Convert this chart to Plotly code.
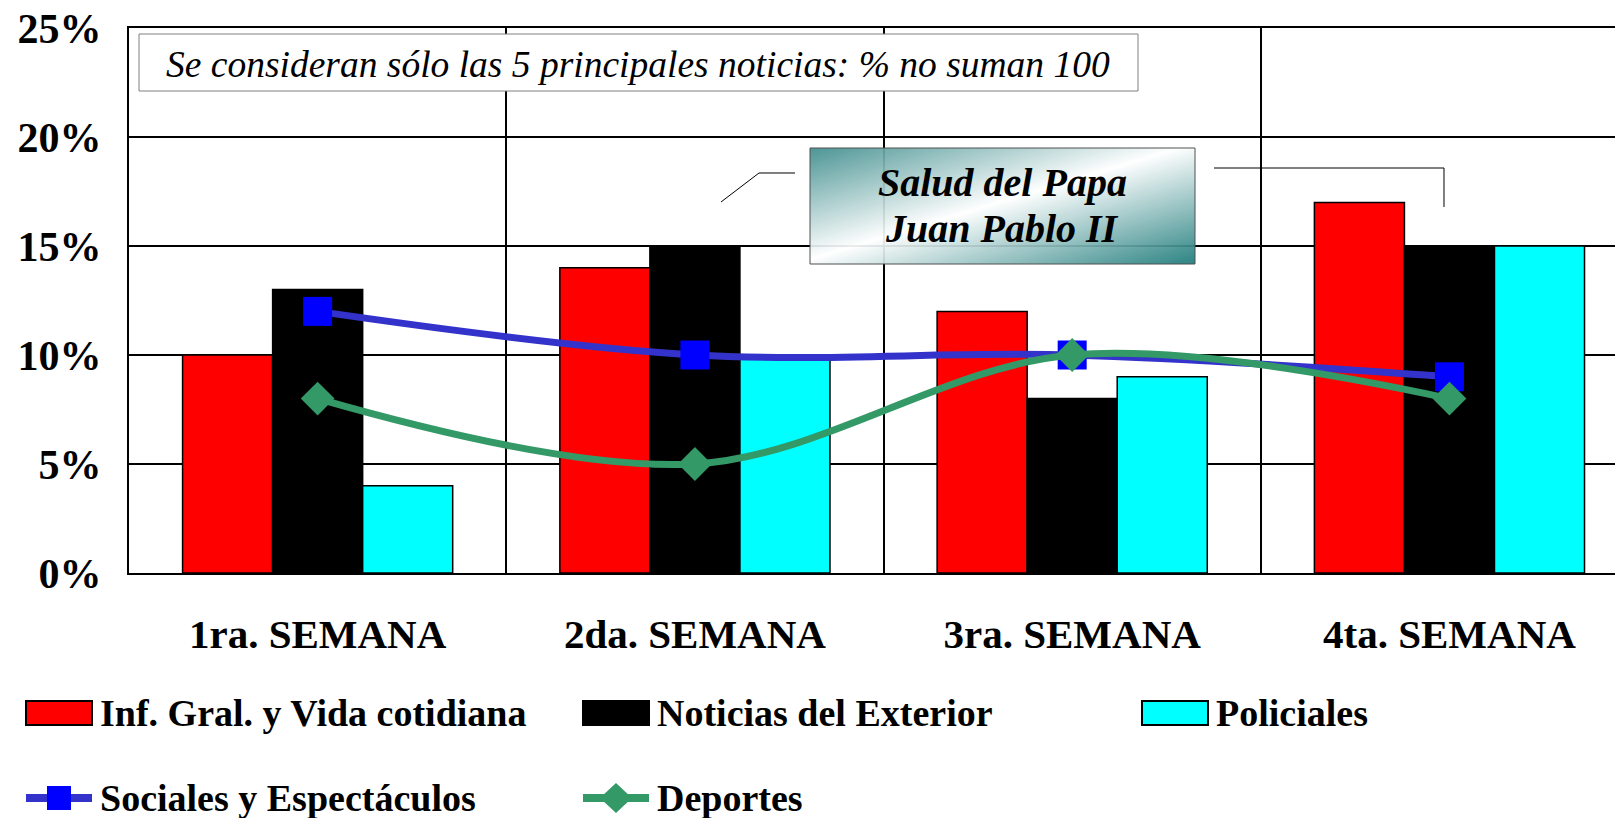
import base64
import plotly.graph_objects as go

# data
weeks = ["1ra. SEMANA", "2da. SEMANA", "3ra. SEMANA", "4ta. SEMANA"]
inf_gral = [10, 14, 12, 17]
exterior = [13, 15, 8, 15]
policiales = [4, 10, 9, 15]
sociales = [12, 10, 10, 9]
deportes = [8, 5, 10, 8]
y_ticks = [0, 5, 10, 15, 20, 25]
y_labels = ["0%", "5%", "10%", "15%", "20%", "25%"]

bar_names = ["Inf. Gral. y Vida cotidiana", "Noticias del Exterior", "Policiales"]
bar_colors = ["#FF0000", "#000000", "#00FFFF"]
line_names = ["Sociales y Espectáculos", "Deportes"]

note = "Se consideran sólo las 5 principales noticias: % no suman 100"
callout = ["Salud del Papa", "Juan Pablo II"]

FONT = '"Liberation Serif", "Times New Roman", Tinos, serif'

# page body has an 8px margin, so figure pixels = screen pixels - 8
OFF = 8
L, T, W, H = 129 - OFF, 28 - OFF, 1494, 545


def px(x):
    # screen pixel -> paper x
    return (x - OFF - L) / W


def py(y):
    # screen pixel -> paper y
    return (T + H - (y - OFF)) / H


x = list(range(len(weeks)))
fig = go.Figure()

for name, vals, col in zip(bar_names, [inf_gral, exterior, policiales], bar_colors):
    fig.add_trace(go.Bar(x=x, y=vals, name=name, marker_color=col,
                         marker_line=dict(color="black", width=1.5), showlegend=False))

fig.add_trace(go.Scatter(x=x, y=sociales, name=line_names[0], mode="lines+markers",
                         line=dict(color="#3333CC", width=7, shape="spline"),
                         marker=dict(symbol="square", size=29, color="#0000FF"),
                         showlegend=False))
fig.add_trace(go.Scatter(x=x, y=deportes, name=line_names[1], mode="lines+markers",
                         line=dict(color="#339966", width=7, shape="spline"),
                         marker=dict(symbol="diamond", size=26, color="#339966"),
                         showlegend=False))

shapes = []
annotations = []

# note box at the top
shapes.append(dict(type="rect", xref="paper", yref="paper", x0=px(139), x1=px(1138),
                   y0=py(91), y1=py(34), fillcolor="white",
                   line=dict(color="#808080", width=1), layer="above"))
annotations.append(dict(xref="paper", yref="paper", x=px(638), y=py(64), text=note,
                        showarrow=False, xanchor="center", yanchor="middle",
                        font=dict(family=FONT, size=37.5, style="italic", color="black")))

# callout box with gradient
svg = ("<svg xmlns='http://www.w3.org/2000/svg' width='385' height='116' preserveAspectRatio='none'>"
       "<defs><linearGradient id='g' x1='0' y1='0' x2='1' y2='1'>"
       "<stop offset='0' stop-color='#3f8d8d'/><stop offset='0.48' stop-color='#ffffff'/>"
       "<stop offset='1' stop-color='#1c7a7a'/></linearGradient></defs>"
       "<rect width='385' height='116' fill='url(#g)'/></svg>")
uri = "data:image/svg+xml;base64," + base64.b64encode(svg.encode()).decode()
fig.add_layout_image(dict(source=uri, xref="paper", yref="paper", x=px(810), y=py(148),
                          sizex=(1195 - 810) / W, sizey=(264 - 148) / H, sizing="stretch",
                          xanchor="left", yanchor="top", layer="above", opacity=0.92))
shapes.append(dict(type="rect", xref="paper", yref="paper", x0=px(810), x1=px(1195),
                   y0=py(264), y1=py(148), line=dict(color="#505050", width=1), layer="above"))
for txt, yy in zip(callout, [183, 228]):
    annotations.append(dict(xref="paper", yref="paper", x=px(1002), y=py(yy),
                            text="<b><i>" + txt + "</i></b>", showarrow=False,
                            xanchor="center", yanchor="middle",
                            font=dict(family=FONT, size=40, color="black")))

# leader lines
shapes.append(dict(type="path", xref="paper", yref="paper",
                   path="M %f %f L %f %f L %f %f" % (px(721), py(202), px(759), py(173), px(795), py(173)),
                   line=dict(color="black", width=1), layer="above"))
shapes.append(dict(type="path", xref="paper", yref="paper",
                   path="M %f %f L %f %f L %f %f" % (px(1214), py(168), px(1444), py(168), px(1444), py(207)),
                   line=dict(color="black", width=1), layer="above"))

# legend, drawn by hand
cols = [26, 583, 1142]
r1, r2 = 713, 798
for name, col, cx in zip(bar_names, bar_colors, cols):
    shapes.append(dict(type="rect", xref="paper", yref="paper", x0=px(cx), x1=px(cx + 66),
                       y0=py(r1 + 12), y1=py(r1 - 12), fillcolor=col,
                       line=dict(color="black", width=2)))
    annotations.append(dict(xref="paper", yref="paper", x=px(cx + 72), y=py(r1), text="<b>" + name + "</b>",
                            showarrow=False, xanchor="left", yanchor="middle",
                            font=dict(family=FONT, size=38, color="black")))

# Sociales legend symbol
cx = cols[0]
shapes.append(dict(type="line", xref="paper", yref="paper", x0=px(cx), x1=px(cx + 66),
                   y0=py(r2), y1=py(r2), line=dict(color="#3333CC", width=8)))
shapes.append(dict(type="rect", xref="paper", yref="paper", x0=px(cx + 21), x1=px(cx + 45),
                   y0=py(r2 + 12), y1=py(r2 - 12), fillcolor="#0000FF", line=dict(width=0)))
annotations.append(dict(xref="paper", yref="paper", x=px(cx + 72), y=py(r2), text="<b>" + line_names[0] + "</b>",
                        showarrow=False, xanchor="left", yanchor="middle",
                        font=dict(family=FONT, size=38, color="black")))
# Deportes legend symbol
cx = cols[1]
shapes.append(dict(type="line", xref="paper", yref="paper", x0=px(cx), x1=px(cx + 66),
                   y0=py(r2), y1=py(r2), line=dict(color="#339966", width=8)))
m = cx + 33
shapes.append(dict(type="path", xref="paper", yref="paper",
                   path="M %f %f L %f %f L %f %f L %f %f Z" % (px(m - 16), py(r2), px(m), py(r2 - 15),
                                                            px(m + 16), py(r2), px(m), py(r2 + 15)),
                   fillcolor="#339966", line=dict(width=0)))
annotations.append(dict(xref="paper", yref="paper", x=px(cx + 72), y=py(r2), text="<b>" + line_names[1] + "</b>",
                        showarrow=False, xanchor="left", yanchor="middle",
                        font=dict(family=FONT, size=38, color="black")))

fig.update_layout(
    width=1623, height=818,
    margin=dict(l=L, r=1623 - L - W, t=T, b=818 - T - H, autoexpand=False),
    paper_bgcolor="white", plot_bgcolor="white",
    barmode="group", bargap=0.284, bargroupgap=0,
    shapes=shapes, annotations=annotations,
    showlegend=False,
)
fig.update_xaxes(range=[-0.5, 3.46], tickmode="array", tickvals=x, ticktext=["<b>%s</b>" % w for w in weeks],
                 tickfont=dict(family=FONT, size=41, color="black"), ticks="", ticklabelstandoff=24,
                 showgrid=False, zeroline=False, showline=True, mirror=True, linecolor="black", linewidth=2,
                 minor=dict(tickmode="array", tickvals=[0.5, 1.5, 2.5], showgrid=True,
                            gridcolor="black", gridwidth=2, ticks=""))
fig.update_yaxes(range=[0, 25], tickmode="array", tickvals=y_ticks, ticktext=["<b>%s</b>" % t for t in y_labels],
                 tickfont=dict(family=FONT, size=42, color="black"), ticks="", ticklabelstandoff=17,
                 ticklabeloverflow="allow",
                 showgrid=True, gridcolor="black", gridwidth=2, zeroline=False,
                 showline=True, linecolor="black", linewidth=2)

fig.write_html("out.html", config={"displayModeBar": False})
